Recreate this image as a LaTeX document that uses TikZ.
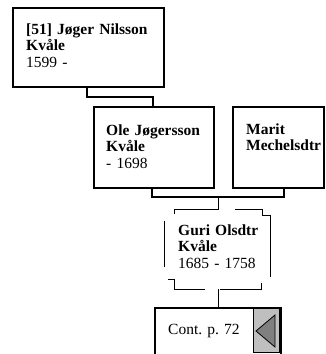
\documentclass[tikz,border=0pt]{standalone}
\usepackage{fontspec}
\setmainfont{Liberation Serif}
\frenchspacing
\begin{document}
\begin{tikzpicture}[x=1pt,y=-1pt,
  box/.style={draw, line width=1.5pt, fill=white, anchor=north west, inner sep=0pt},
  lbl/.style={anchor=base west, align=left, inner sep=0pt, text width=150pt, font=\fontsize{15.5}{16.7}\selectfont},
  conn/.style={line width=1.4pt},
  frame/.style={line width=0.9pt}]
\useasboundingbox (0,0) rectangle (326,354);
\clip (0,0) rectangle (326,354);
% boxes
\node[box, minimum width=151pt, minimum height=79pt] (b1) at (12,7) {};
\node[box, minimum width=120pt, minimum height=81pt] (b2) at (93,106) {};
\node[box, minimum width=91pt, minimum height=81pt] (b3) at (232,106) {};
\node[box, minimum width=126pt, minimum height=60pt] (b5) at (154,307) {};
% labels
\node[lbl] (t1) at (26,34) {\textbf{[51] Jøger Nilsson}\\\textbf{Kvåle}\\1599 -};
\node[lbl] (t2) at (106,135) {\textbf{Ole Jøgersson}\\\textbf{Kvåle}\\- 1698};
\node[lbl] (t3) at (246,134) {\textbf{Marit}\\\textbf{Mechelsdtr}};
\node[lbl] (t4) at (178,235) {\textbf{Guri Olsdtr}\\\textbf{Kvåle}\\1685 - 1758};
\node[lbl] (t5) at (168,334) {Cont. p. 72};
% gray arrow button
\node[draw, line width=0.8pt, fill=black!25, anchor=north west, inner sep=0pt, minimum width=26pt, minimum height=44pt] (btn) at (253,308) {};
\draw[line width=0.8pt, fill=black!50] (256,331) -- (275,315) -- (275,347) -- cycle;
% Guri frame
\draw[frame] (174,214) -- (174,209) -- (218.5,209);
\draw[frame] (235,209) -- (262,209) -- (262,215) -- (270,215) -- (270,277);
\draw[frame] (164,221) -- (164,267);
\draw[frame] (168,279) -- (174,279) -- (174,289) -- (205,289);
\draw[frame] (220,289) -- (261,289) -- (261,283);
% connectors
\coordinate (j1) at (87,86);
\coordinate (j2) at (153,106);
\draw[conn] (j1) -- (87,97) -- (153,97) -- (j2);
\coordinate (p1) at (152,187);
\coordinate (p2) at (284,187);
\draw[conn] (p1) -- (152,197) -- (284,197) -- (p2);
\coordinate (m1) at (218.5,197);
\coordinate (m2) at (218.5,209);
\draw[conn] (m1) -- (m2);
\coordinate (k1) at (218.5,289);
\coordinate (k2) at (218.5,307);
\draw[conn] (k1) -- (k2);
\end{tikzpicture}
\end{document}
